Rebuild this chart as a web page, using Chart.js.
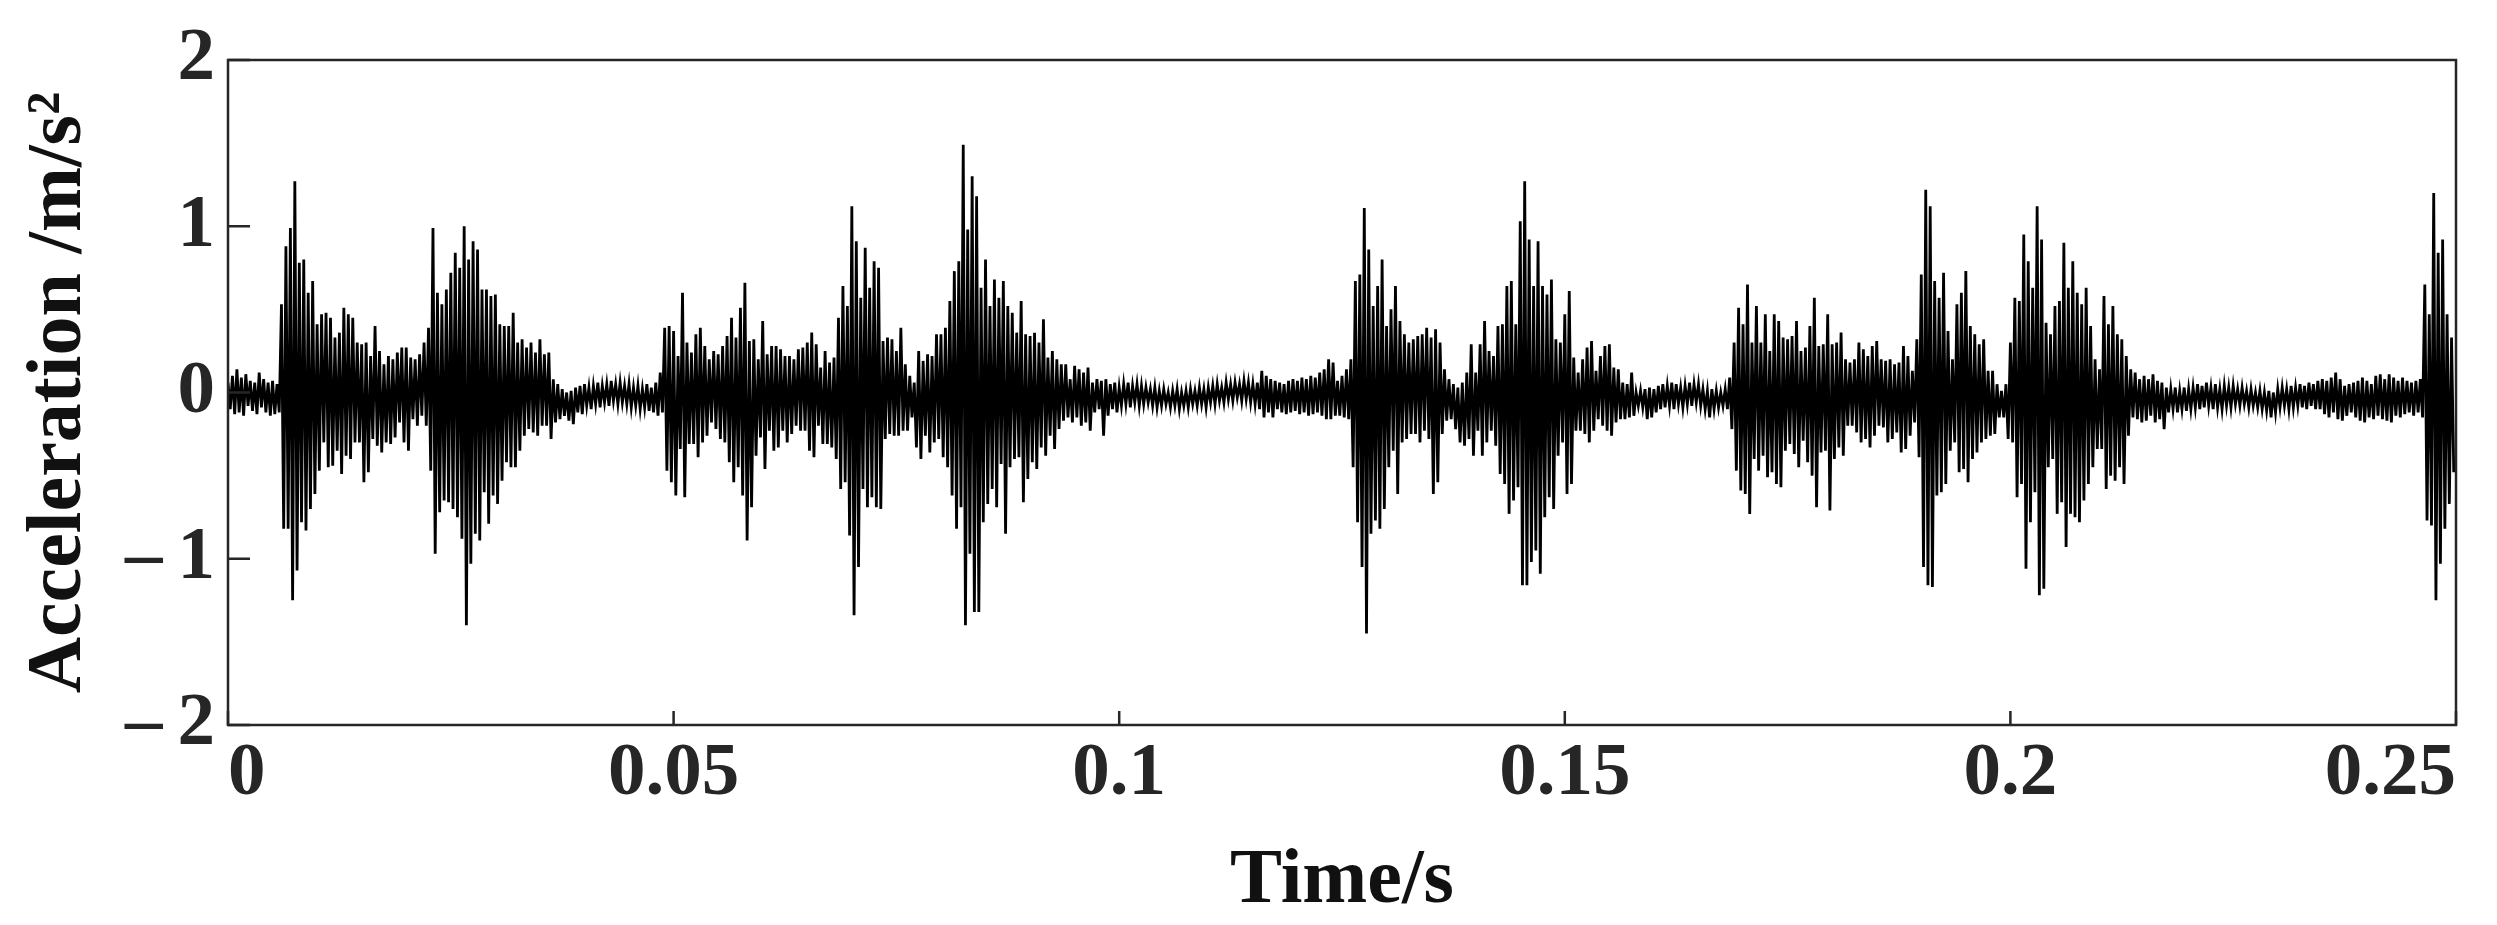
<!DOCTYPE html>
<html lang="en">
<head>
<meta charset="UTF-8">
<title>Acceleration signal</title>
<style>
  html, body { margin: 0; padding: 0; background: #fff; }
  canvas { display: block; }
</style>
</head>
<body>
<canvas id="signalChart" width="2497" height="925"></canvas>
<script src="https://cdn.jsdelivr.net/npm/chart.js"></script>
<script>
// envelope of the vibration record, one bin every 0.5 ms
const sampleStep = 0.0005;

const upper = [
  0.06, 0.10, 0.14, 0.09, 0.11, 0.07, 0.06, 0.12, 0.08, 0.06,   // 0
  0.07, 0.05, 0.53, 0.88, 0.99, 1.27, 0.78, 0.80, 0.60, 0.67,
  0.41, 0.47, 0.48, 0.45, 0.33, 0.36, 0.51, 0.47, 0.45, 0.30,
  0.29, 0.30, 0.22, 0.40, 0.25, 0.17, 0.22, 0.20, 0.24, 0.27,
  0.27, 0.21, 0.20, 0.23, 0.30, 0.39, 0.99, 0.60, 0.53, 0.62,
  0.72, 0.84, 0.75, 1.00, 0.80, 0.91, 0.86, 0.62, 0.62, 0.58,   // 50
  0.59, 0.41, 0.40, 0.40, 0.48, 0.30, 0.32, 0.27, 0.30, 0.24,
  0.32, 0.23, 0.24, 0.08, 0.05, 0.02, 0.00, 0.01, 0.03, 0.04,
  0.05, 0.03, 0.04, 0.06, 0.04, 0.05, 0.07, 0.05, 0.06, 0.04,
  0.05, 0.03, 0.04, 0.02, 0.05, 0.03, 0.06, 0.12, 0.39, 0.40,
  0.37, 0.22, 0.60, 0.30, 0.24, 0.35, 0.39, 0.28, 0.20, 0.25,   // 100
  0.23, 0.28, 0.34, 0.45, 0.33, 0.51, 0.66, 0.31, 0.32, 0.20,
  0.43, 0.23, 0.28, 0.28, 0.26, 0.22, 0.22, 0.20, 0.26, 0.27,
  0.30, 0.36, 0.29, 0.15, 0.25, 0.18, 0.21, 0.45, 0.64, 0.52,
  1.12, 0.91, 0.57, 0.87, 0.63, 0.79, 0.75, 0.31, 0.33, 0.32,
  0.25, 0.39, 0.17, 0.10, 0.06, 0.25, 0.19, 0.23, 0.22, 0.35,   // 150
  0.35, 0.39, 0.55, 0.73, 0.79, 1.49, 0.98, 1.30, 1.18, 0.63,
  0.80, 0.52, 0.68, 0.57, 0.67, 0.52, 0.48, 0.36, 0.55, 0.35,
  0.34, 0.36, 0.30, 0.44, 0.21, 0.25, 0.20, 0.17, 0.17, 0.08,
  0.16, 0.14, 0.12, 0.15, 0.06, 0.08, 0.07, 0.08, 0.05, 0.06,
  0.03, 0.05, 0.06, 0.04, 0.05, 0.04, 0.03, 0.02, 0.03, 0.01,   // 200
  0.02, 0.00, 0.01, 0.02, 0.00, 0.01, 0.02, 0.01, 0.03, 0.02,
  0.03, 0.04, 0.05, 0.03, 0.06, 0.05, 0.06, 0.05, 0.07, 0.06,
  0.05, 0.06, 0.13, 0.10, 0.08, 0.07, 0.06, 0.05, 0.07, 0.08,
  0.07, 0.09, 0.08, 0.10, 0.09, 0.12, 0.14, 0.20, 0.18, 0.07,
  0.10, 0.14, 0.20, 0.67, 0.71, 1.11, 0.86, 0.52, 0.64, 0.80,   // 250
  0.40, 0.50, 0.64, 0.43, 0.35, 0.30, 0.32, 0.34, 0.35, 0.39,
  0.33, 0.38, 0.30, 0.14, 0.08, 0.05, 0.03, 0.06, 0.12, 0.29,
  0.12, 0.29, 0.43, 0.25, 0.22, 0.40, 0.41, 0.64, 0.67, 0.41,
  1.03, 1.27, 0.92, 0.64, 0.91, 0.64, 0.59, 0.68, 0.32, 0.30,
  0.47, 0.61, 0.21, 0.12, 0.20, 0.27, 0.31, 0.13, 0.22, 0.28,   // 300
  0.29, 0.15, 0.14, 0.06, 0.05, 0.12, 0.00, 0.01, 0.02, 0.03,
  0.02, 0.04, 0.05, 0.04, 0.06, 0.05, 0.03, 0.04, 0.06, 0.05,
  0.05, 0.02, 0.01, 0.02, 0.01, 0.00, 0.02, 0.09, 0.30, 0.51,
  0.41, 0.65, 0.30, 0.52, 0.30, 0.47, 0.25, 0.47, 0.43, 0.33,
  0.32, 0.34, 0.43, 0.25, 0.27, 0.40, 0.57, 0.28, 0.29, 0.47,   // 350
  0.29, 0.30, 0.36, 0.20, 0.18, 0.20, 0.30, 0.26, 0.22, 0.28,
  0.31, 0.20, 0.19, 0.20, 0.17, 0.18, 0.28, 0.22, 0.13, 0.32,
  0.71, 1.22, 1.12, 0.67, 0.57, 0.72, 0.37, 0.20, 0.53, 0.60,
  0.73, 0.40, 0.35, 0.29, 0.32, 0.13, 0.13, 0.05, 0.01, 0.05,
  0.30, 0.57, 0.55, 0.95, 0.79, 0.63, 1.12, 0.92, 0.42, 0.35,   // 400
  0.52, 0.55, 0.90, 0.63, 0.79, 0.60, 0.53, 0.63, 0.40, 0.20,
  0.14, 0.58, 0.41, 0.52, 0.35, 0.32, 0.22, 0.14, 0.12, 0.08,
  0.10, 0.08, 0.11, 0.07, 0.06, 0.03, 0.02, 0.03, 0.01, 0.03,
  0.02, 0.03, 0.05, 0.04, 0.06, 0.03, 0.05, 0.02, 0.04, 0.03,
  0.04, 0.02, 0.03, 0.01, 0.02, 0.00, 0.01, 0.00, 0.01, 0.00,   // 450
  0.02, 0.03, 0.02, 0.04, 0.03, 0.05, 0.04, 0.06, 0.05, 0.07,
  0.08, 0.07, 0.09, 0.12, 0.08, 0.04, 0.05, 0.06, 0.07, 0.09,
  0.07, 0.05, 0.10, 0.11, 0.08, 0.11, 0.09, 0.07, 0.09, 0.07,
  0.06, 0.07, 0.08, 0.65, 0.47, 1.20, 0.84, 0.92, 0.47, 0.33
];

const lower = [
  -0.10, -0.13, -0.12, -0.14, -0.08, -0.11, -0.13, -0.09, -0.12, -0.14,   // 0
  -0.13, -0.12, -0.82, -0.82, -1.25, -1.07, -0.78, -0.83, -0.70, -0.61,
  -0.47, -0.30, -0.45, -0.44, -0.35, -0.49, -0.38, -0.40, -0.30, -0.30,
  -0.54, -0.48, -0.28, -0.32, -0.36, -0.30, -0.31, -0.27, -0.18, -0.30,
  -0.35, -0.16, -0.20, -0.14, -0.20, -0.47, -0.97, -0.72, -0.65, -0.66,
  -0.70, -0.75, -0.88, -1.40, -1.03, -0.85, -0.89, -0.60, -0.79, -0.62,   // 50
  -0.67, -0.53, -0.42, -0.45, -0.45, -0.35, -0.26, -0.22, -0.24, -0.26,
  -0.20, -0.20, -0.28, -0.18, -0.16, -0.14, -0.17, -0.19, -0.12, -0.13,
  -0.08, -0.10, -0.07, -0.09, -0.06, -0.08, -0.05, -0.07, -0.06, -0.07,
  -0.09, -0.08, -0.10, -0.09, -0.11, -0.12, -0.14, -0.12, -0.47, -0.54,
  -0.62, -0.34, -0.63, -0.31, -0.31, -0.39, -0.30, -0.26, -0.18, -0.22,   // 100
  -0.28, -0.30, -0.42, -0.54, -0.45, -0.62, -0.89, -0.69, -0.38, -0.27,
  -0.46, -0.23, -0.35, -0.33, -0.23, -0.30, -0.25, -0.20, -0.23, -0.23,
  -0.35, -0.39, -0.20, -0.31, -0.31, -0.33, -0.40, -0.58, -0.54, -0.86,
  -1.34, -1.05, -0.58, -0.69, -0.63, -0.69, -0.70, -0.28, -0.25, -0.26,
  -0.26, -0.23, -0.23, -0.15, -0.33, -0.40, -0.26, -0.36, -0.30, -0.28,   // 150
  -0.39, -0.45, -0.62, -0.82, -0.69, -1.40, -0.97, -1.32, -1.32, -0.78,
  -0.67, -0.58, -0.69, -0.43, -0.85, -0.45, -0.40, -0.39, -0.66, -0.52,
  -0.42, -0.46, -0.33, -0.38, -0.26, -0.34, -0.22, -0.17, -0.15, -0.18,
  -0.15, -0.20, -0.18, -0.23, -0.12, -0.10, -0.26, -0.14, -0.10, -0.12,
  -0.08, -0.07, -0.09, -0.06, -0.08, -0.07, -0.06, -0.08, -0.09, -0.08,   // 200
  -0.07, -0.09, -0.08, -0.10, -0.08, -0.09, -0.07, -0.08, -0.07, -0.09,
  -0.06, -0.07, -0.05, -0.06, -0.04, -0.05, -0.03, -0.05, -0.04, -0.06,
  -0.07, -0.10, -0.15, -0.12, -0.15, -0.10, -0.12, -0.13, -0.12, -0.11,
  -0.13, -0.12, -0.14, -0.13, -0.12, -0.14, -0.16, -0.16, -0.14, -0.14,
  -0.15, -0.16, -0.45, -0.78, -1.05, -1.45, -0.85, -0.77, -0.82, -0.70,   // 250
  -0.45, -0.35, -0.61, -0.30, -0.28, -0.25, -0.25, -0.30, -0.23, -0.28,
  -0.61, -0.54, -0.25, -0.17, -0.16, -0.22, -0.30, -0.32, -0.28, -0.38,
  -0.23, -0.38, -0.30, -0.23, -0.32, -0.49, -0.55, -0.73, -0.65, -0.57,
  -1.16, -1.16, -1.02, -0.95, -1.09, -0.75, -0.63, -0.70, -0.38, -0.30,
  -0.61, -0.55, -0.23, -0.23, -0.25, -0.30, -0.23, -0.16, -0.20, -0.23,   // 300
  -0.26, -0.18, -0.16, -0.16, -0.15, -0.14, -0.08, -0.09, -0.16, -0.15,
  -0.12, -0.10, -0.09, -0.08, -0.10, -0.07, -0.09, -0.07, -0.08, -0.06,
  -0.08, -0.10, -0.15, -0.10, -0.09, -0.08, -0.10, -0.22, -0.47, -0.59,
  -0.61, -0.73, -0.40, -0.47, -0.38, -0.51, -0.48, -0.55, -0.57, -0.35,
  -0.31, -0.37, -0.45, -0.29, -0.42, -0.50, -0.69, -0.36, -0.35, -0.71,   // 350
  -0.40, -0.33, -0.38, -0.20, -0.20, -0.24, -0.30, -0.28, -0.33, -0.26,
  -0.20, -0.21, -0.30, -0.28, -0.24, -0.36, -0.34, -0.26, -0.18, -0.39,
  -1.05, -1.16, -1.17, -0.62, -0.60, -0.55, -0.35, -0.30, -0.48, -0.46,
  -0.54, -0.40, -0.36, -0.30, -0.28, -0.26, -0.25, -0.15, -0.15, -0.28,
  -0.30, -0.63, -0.55, -1.06, -0.78, -0.60, -1.22, -1.18, -0.45, -0.40,   // 400
  -0.73, -0.66, -0.93, -0.73, -0.75, -0.78, -0.65, -0.55, -0.45, -0.34,
  -0.34, -0.58, -0.50, -0.53, -0.45, -0.55, -0.26, -0.15, -0.16, -0.18,
  -0.17, -0.14, -0.18, -0.16, -0.22, -0.12, -0.10, -0.12, -0.10, -0.11,
  -0.10, -0.09, -0.10, -0.09, -0.08, -0.10, -0.09, -0.10, -0.08, -0.09,
  -0.07, -0.08, -0.07, -0.09, -0.08, -0.09, -0.10, -0.11, -0.15, -0.12,   // 450
  -0.09, -0.08, -0.10, -0.09, -0.08, -0.09, -0.10, -0.08, -0.10, -0.10,
  -0.13, -0.15, -0.12, -0.16, -0.17, -0.14, -0.12, -0.15, -0.17, -0.18,
  -0.15, -0.16, -0.14, -0.16, -0.17, -0.18, -0.14, -0.15, -0.13, -0.12,
  -0.14, -0.12, -0.15, -0.77, -0.80, -1.25, -1.03, -0.82, -0.67, -0.48
];

const xTicks = [0, 0.05, 0.1, 0.15, 0.2, 0.25];
const xTickLabels = ['0', '0.05', '0.1', '0.15', '0.2', '0.25'];
const yTicks = [-2, -1, 0, 1, 2];
const yTickLabels = ['\u2013\u20092', '\u2013\u20091', '0', '1', '2'];

// each bin: peak then trough, so the trace zigzags like the raw record
const points = [];
upper.forEach((hi, i) => {
  points.push({ x: i * sampleStep, y: hi });
  points.push({ x: (i + 0.5) * sampleStep, y: lower[i] });
});

const axisColor = '#262626';
const tickFont = { family: "'Liberation Serif', 'Times New Roman', serif", weight: 'bold', size: 75, lineHeight: 1 };
const titleFont = { family: "'Liberation Serif', 'Times New Roman', serif", weight: 'bold', size: 78, lineHeight: 1 };

// full box plus inward tick marks (MATLAB style)
const boxPlugin = {
  id: 'box',
  afterDatasetsDraw(chart) {
    const { ctx, chartArea: a, scales: { x, y } } = chart;
    ctx.save();
    ctx.strokeStyle = axisColor;
    ctx.lineWidth = 2.5;
    ctx.beginPath();
    yTicks.forEach(v => {
      const py = y.getPixelForValue(v);
      ctx.moveTo(a.left, py);
      ctx.lineTo(a.left + 22, py);
    });
    xTicks.forEach(v => {
      const px = x.getPixelForValue(v);
      ctx.moveTo(px, a.bottom);
      ctx.lineTo(px, a.bottom - 14);
    });
    ctx.stroke();
    ctx.strokeRect(a.left, a.top, a.right - a.left, a.bottom - a.top);
    ctx.restore();
  }
};

new Chart(document.getElementById('signalChart'), {
  type: 'line',
  data: {
    datasets: [{
      data: points,
      borderColor: '#000',
      borderWidth: 2.8,
      pointRadius: 0,
      tension: 0,
      fill: false
    }]
  },
  options: {
    responsive: false,
    animation: false,
    devicePixelRatio: 1,
    layout: { padding: { top: 60, right: 41, bottom: 0, left: 0 } },
    plugins: { legend: { display: false }, tooltip: { enabled: false } },
    scales: {
      x: {
        type: 'linear',
        min: 0,
        max: 0.25,
        afterBuildTicks: s => { s.ticks = xTicks.map(v => ({ value: v })); },
        afterFit: s => { s.height = 200; s.paddingLeft = 0; s.paddingRight = 0; },
        grid: { display: false, drawTicks: false },
        border: { display: false },
        ticks: {
          autoSkip: false,
          maxRotation: 0,
          align: 'inner',
          padding: 12,
          color: axisColor,
          font: tickFont,
          callback: (v, i) => xTickLabels[i]
        },
        title: { display: true, text: 'Time/s', color: '#111', font: titleFont, padding: { top: 0, bottom: 4 } }
      },
      y: {
        min: -2,
        max: 2,
        afterBuildTicks: s => { s.ticks = yTicks.map(v => ({ value: v })); },
        afterFit: s => { s.width = 228; s.paddingTop = 0; s.paddingBottom = 0; },
        grid: { display: false, drawTicks: false },
        border: { display: false },
        ticks: {
          padding: 13,
          color: axisColor,
          font: tickFont,
          callback: (v, i) => yTickLabels[i]
        },
        title: { display: true, text: 'Acceleration /m/s\u00b2', color: '#111', font: titleFont, padding: { top: 21, bottom: 0 } }
      }
    }
  },
  plugins: [boxPlugin]
});
</script>
</body>
</html>
